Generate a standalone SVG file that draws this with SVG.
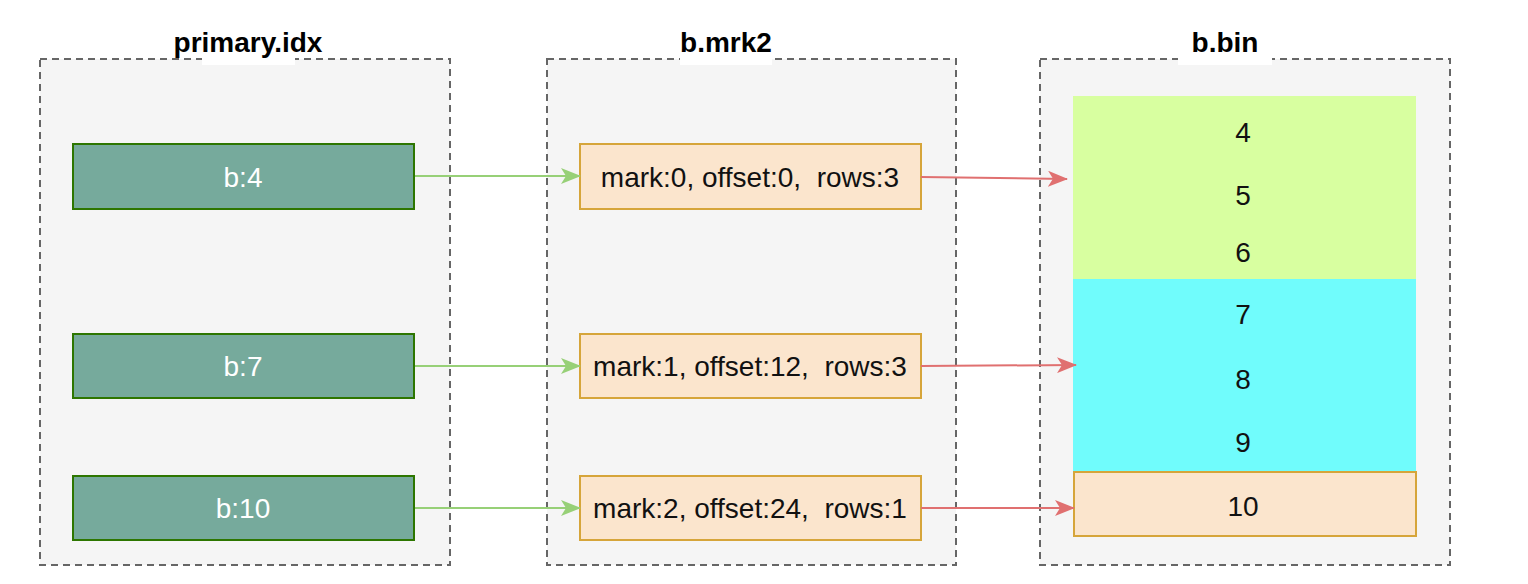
<svg xmlns="http://www.w3.org/2000/svg" width="1528" height="584" viewBox="0 0 1528 584">
<style>
.cont{fill:#f5f5f5;stroke:#666;stroke-width:2;stroke-dasharray:7 5}
.title{font-family:"Liberation Sans",Arial,sans-serif;font-weight:bold;font-size:28px;fill:#000;text-anchor:middle}
.tbg{fill:#fff}
.gn{fill:#76aa9c;stroke:#2d7600;stroke-width:2}
.on{fill:#fbe5cd;stroke:#d6a53a;stroke-width:2}
.lt{font-family:"Liberation Sans",Arial,sans-serif;font-size:28px;text-anchor:middle;dominant-baseline:central}
.w{fill:#fff}
.k{fill:#111}
.ga{stroke:#97d077;stroke-width:2;fill:none;marker-end:url(#gh)}
.ra{stroke:#e07070;stroke-width:2;fill:none;marker-end:url(#rh)}
</style>
<defs>
<marker id="gh" viewBox="0 0 20 16" refX="19" refY="8" markerWidth="20" markerHeight="16" markerUnits="userSpaceOnUse" orient="auto"><path d="M0,0 L20,8 L0,16 L5,8 Z" fill="#97d077"/></marker>
<marker id="rh" viewBox="0 0 20 16" refX="19" refY="8" markerWidth="20" markerHeight="16" markerUnits="userSpaceOnUse" orient="auto"><path d="M0,0 L20,8 L0,16 L5,8 Z" fill="#e07070"/></marker>
</defs>
<rect width="1528" height="584" fill="#fff"/>
<g id="primary-idx">
<rect class="cont" x="40" y="59" width="410" height="506"/>
<rect class="tbg" x="202" y="38" width="93" height="27"/>
<text class="title" x="248" y="52">primary.idx</text>
</g>
<g id="b-mrk2">
<rect class="cont" x="547" y="59" width="409" height="506"/>
<rect class="tbg" x="680" y="38" width="92" height="27"/>
<text class="title" x="726" y="52">b.mrk2</text>
</g>
<g id="b-bin">
<rect class="cont" x="1040" y="59" width="410" height="506"/>
<rect class="tbg" x="1178" y="38" width="94" height="27"/>
<text class="title" x="1225" y="52">b.bin</text>
</g>
<g id="idx-b4"><rect class="gn" x="73" y="144" width="341" height="65"/><text class="lt w" x="243" y="177">b:4</text></g>
<g id="idx-b7"><rect class="gn" x="73" y="334" width="341" height="64"/><text class="lt w" x="243" y="366">b:7</text></g>
<g id="idx-b10"><rect class="gn" x="73" y="476" width="341" height="64"/><text class="lt w" x="243" y="508">b:10</text></g>
<g id="mrk-0"><rect class="on" x="580" y="144" width="341" height="65"/><text class="lt k" x="750" y="177" xml:space="preserve">mark:0, offset:0,  rows:3</text></g>
<g id="mrk-1"><rect class="on" x="580" y="334" width="341" height="64"/><text class="lt k" x="750" y="366" xml:space="preserve">mark:1, offset:12,  rows:3</text></g>
<g id="mrk-2"><rect class="on" x="580" y="476" width="341" height="64"/><text class="lt k" x="750" y="508" xml:space="preserve">mark:2, offset:24,  rows:1</text></g>
<g id="bin-granule0">
<rect x="1073" y="96" width="343" height="183" fill="#d8ffa0"/>
<text class="lt k" x="1243" y="132">4</text>
<text class="lt k" x="1243" y="195">5</text>
<text class="lt k" x="1243" y="252">6</text>
</g>
<g id="bin-granule1">
<rect x="1073" y="279" width="343" height="192" fill="#70fcfc"/>
<text class="lt k" x="1243" y="314">7</text>
<text class="lt k" x="1243" y="379">8</text>
<text class="lt k" x="1243" y="442">9</text>
</g>
<g id="bin-granule2">
<rect class="on" x="1074" y="472" width="342" height="64"/>
<text class="lt k" x="1243" y="506">10</text>
</g>
<g id="connectors">
<path class="ga" d="M415,176 L580,176"/>
<path class="ga" d="M415,366 L580,366"/>
<path class="ga" d="M415,508 L580,508"/>
<path class="ra" d="M921,177 L1067,179"/>
<path class="ra" d="M921,366 L1076,365"/>
<path class="ra" d="M921,508 L1074,508"/>
</g>
</svg>
